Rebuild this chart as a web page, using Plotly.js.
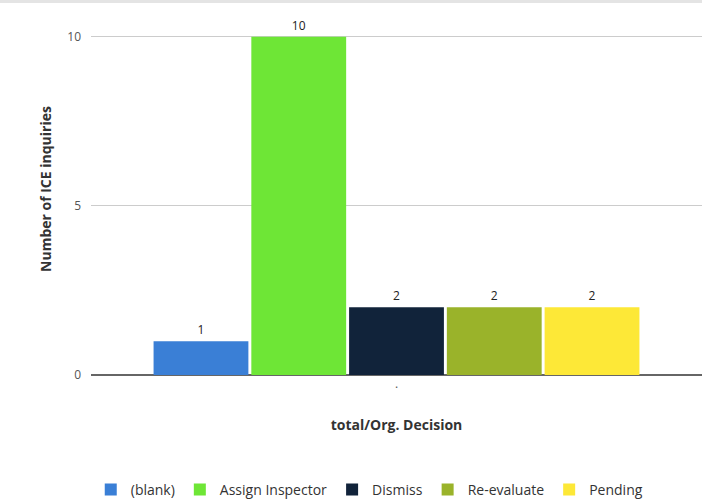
<!DOCTYPE html>
<html><head><meta charset="utf-8">
<script src="https://cdn.plot.ly/plotly-3.0.1.min.js"></script>
<style>html,body{margin:0;padding:0;background:#fff;}#chart{width:702px;height:503px;}</style>
</head><body><div id="chart"></div>
<script>
const category = ["."];
const seriesNames = ["(blank)", "Assign Inspector", "Dismiss", "Re-evaluate", "Pending"];
const seriesValues = [1, 10, 2, 2, 2];
const seriesColors = ["#3a7fd6", "#6ee636", "#11233a", "#9ab32a", "#fde837"];
const yTicks = [0, 5, 10];

const traces = seriesNames.map((name, i) => ({
  type: "bar",
  name: name,
  x: category,
  y: [seriesValues[i]],
  marker: {color: seriesColors[i]},
  text: [String(seriesValues[i])],
  textposition: "outside",
  textfont: {family: "Open Sans, sans-serif", size: 12, color: "#222"},
  cliponaxis: false,
  hoverinfo: "none"
}));

const layout = {
  width: 702, height: 503,
  margin: {l: 91, r: 0, t: 3, b: 128},
  paper_bgcolor: "#fff", plot_bgcolor: "#fff",
  font: {family: "Open Sans, sans-serif", color: "#444"},
  barmode: "group",
  bargap: 0.2,
  bargroupgap: 0.03,
  showlegend: true,
  legend: {orientation: "h", xref: "container", yref: "container", x: 0.526, xanchor: "center", y: 0.026, yanchor: "middle",
    font: {size: 14, color: "#333"}, itemwidth: 30},
  xaxis: {
    type: "category",
    showgrid: false, zeroline: false, showline: false,
    tickfont: {size: 12, color: "#555"},
    title: {text: "total/Org. Decision", font: {size: 14, color: "#333", weight: "bold"}, standoff: 29}
  },
  yaxis: {
    range: [0, 11],
    tickvals: yTicks,
    ticktext: yTicks.map(String),
    showgrid: true, gridcolor: "#cccccc", gridwidth: 1,
    zeroline: true, zerolinecolor: "#666", zerolinewidth: 2,
    ticklabelstandoff: 9,
    tickfont: {size: 12, color: "#555"},
    title: {text: "Number of ICE inquiries", font: {size: 14, color: "#333", weight: "bold"}, standoff: 12}
  },
  shapes: [{type: "rect", xref: "paper", yref: "paper", x0: -0.2, x1: 1.05, y0: 1.0, y1: 1.02, fillcolor: "#e4e4e4", line: {width: 0}, layer: "above"}]
};

Plotly.newPlot("chart", traces, layout, {displayModeBar: false, staticPlot: true});
</script></body></html>
